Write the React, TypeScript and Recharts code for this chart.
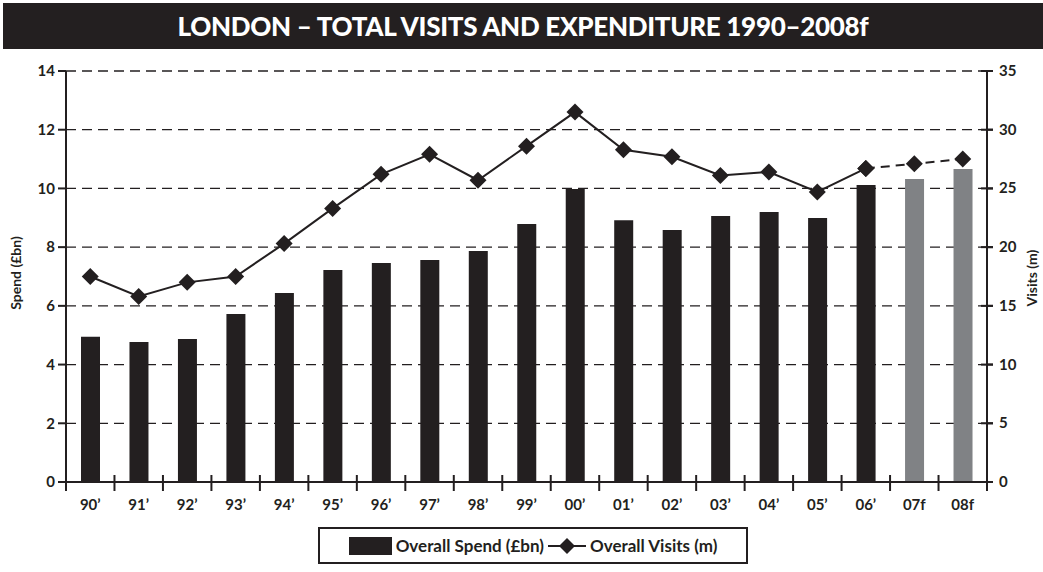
import React from 'react';
import { ComposedChart, Bar, Line, XAxis, YAxis, CartesianGrid, Cell } from 'recharts';

const years = ["90’", "91’", "92’", "93’", "94’", "95’", "96’", "97’", "98’", "99’", "00’", "01’", "02’", "03’", "04’", "05’", "06’", '07f', '08f'];
// spend in £bn
const spend = [4.95, 4.77, 4.87, 5.72, 6.44, 7.22, 7.46, 7.56, 7.87, 8.79, 9.98, 8.92, 8.58, 9.06, 9.2, 8.99, 10.12, 10.32, 10.66];
// visits in millions
const visits = [17.5, 15.8, 17.0, 17.5, 20.3, 23.3, 26.2, 27.9, 25.7, 28.6, 31.5, 28.3, 27.7, 26.1, 26.4, 24.7, 26.7, 27.1, 27.5];
const lastActual = 16; // 06 is the last real year, 07f/08f are forecasts
const spendTicks = [0, 2, 4, 6, 8, 10, 12, 14];
const visitTicks = [0, 5, 10, 15, 20, 25, 30, 35];

const INK = '#231f20';
const GREY = '#808285';
const FONT = 'Lato, "Open Sans", sans-serif';

const data = years.map((year, i) => ({
  year,
  spend: spend[i],
  visits: i <= lastActual ? visits[i] : null,
  visitsF: i >= lastActual ? visits[i] : null,
  forecast: i > lastActual,
}));

const Diamond = (props: any) => {
  const { cx, cy, value } = props;
  if (value == null || cx == null || cy == null) return null;
  const r = 8.5;
  return <polygon points={`${cx},${cy - r} ${cx + r},${cy} ${cx},${cy + r} ${cx - r},${cy}`} fill={INK} />;
};

const XTick = (props: any) => {
  const { x, y, payload, index } = props;
  const half = 921 / 19 / 2;
  return (
    <g>
      <line x1={x - half} x2={x - half} y1={y - 7} y2={y + 9} stroke={INK} strokeWidth={2} />
      {index === years.length - 1 && (
        <line x1={x + half} x2={x + half} y1={y - 7} y2={y + 9} stroke={INK} strokeWidth={2} />
      )}
      <text x={x} y={y + 28} textAnchor="middle" fill={INK} fontSize={15} fontWeight="bold" fontFamily={FONT}>
        {payload.value}
      </text>
    </g>
  );
};

// right axis ticks cross the axis line
const RightTick = (props: any) => {
  const { x, y, payload } = props;
  return (
    <g>
      <line x1={x - 18} x2={x - 6} y1={y} y2={y} stroke={INK} strokeWidth={2} />
      <text x={x} y={y} dy={5} textAnchor="start" fill={INK} fontSize={15} fontWeight="bold" fontFamily={FONT}>
        {payload.value}
      </text>
    </g>
  );
};

const tickStyle = { fill: INK, fontSize: 15, fontWeight: 'bold', fontFamily: FONT };

export default function App() {
  return (
    <div style={{ position: 'absolute', left: 0, top: 0, width: 1043, height: 572, overflow: 'hidden', background: '#fff', fontFamily: FONT }}>
      <ComposedChart width={1043} height={572} data={data} margin={{ top: 71, right: 0, bottom: 0, left: 0 }}>
        <CartesianGrid vertical={false} stroke={INK} strokeWidth={1.3} strokeDasharray="10 6" />
        <XAxis
          dataKey="year"
          interval={0}
          height={90}
          tickLine={false}
          tickSize={0}
          tickMargin={0}
          axisLine={{ stroke: INK, strokeWidth: 2 }}
          tick={<XTick />}
        />
        <YAxis
          yAxisId={0}
          width={66}
          domain={[0, 14]}
          ticks={spendTicks}
          tickSize={8}
          tickMargin={3}
          axisLine={{ stroke: INK, strokeWidth: 2 }}
          tickLine={{ stroke: INK, strokeWidth: 2 }}
          tick={tickStyle}
        />
        <YAxis
          yAxisId="right"
          orientation="right"
          width={56}
          domain={[0, 35]}
          ticks={visitTicks}
          tickSize={6}
          tickMargin={6}
          axisLine={{ stroke: INK, strokeWidth: 2 }}
          tickLine={{ stroke: INK, strokeWidth: 2 }}
          tick={<RightTick />}
        />
        <Bar dataKey="spend" yAxisId={0} barSize={19} isAnimationActive={false}>
          {data.map((d, i) => (
            <Cell key={i} fill={d.forecast ? GREY : INK} />
          ))}
        </Bar>
        <Line
          dataKey="visits"
          yAxisId="right"
          stroke={INK}
          strokeWidth={2}
          dot={<Diamond />}
          activeDot={false}
          type="linear"
          isAnimationActive={false}
        />
        <Line
          dataKey="visitsF"
          yAxisId="right"
          stroke={INK}
          strokeWidth={2}
          strokeDasharray="9 6"
          dot={<Diamond />}
          activeDot={false}
          type="linear"
          isAnimationActive={false}
        />
      </ComposedChart>

      <div style={{ position: 'absolute', left: 3, top: 3, width: 1040, height: 46, background: INK, color: '#fff', display: 'flex', alignItems: 'center', justifyContent: 'center', fontSize: 26, fontWeight: 900, letterSpacing: -0.3 }}>
        LONDON – TOTAL VISITS AND EXPENDITURE 1990–2008f
      </div>

      <div style={{ position: 'absolute', left: -44, top: 263, width: 120, height: 20, lineHeight: '20px', textAlign: 'center', transform: 'rotate(-90deg)', fontSize: 14, fontWeight: 'bold', color: INK }}>
        Spend (£bn)
      </div>
      <div style={{ position: 'absolute', left: 972, top: 268, width: 120, height: 20, lineHeight: '20px', textAlign: 'center', transform: 'rotate(-90deg)', fontSize: 14, fontWeight: 'bold', color: INK }}>
        Visits (m)
      </div>

      <div style={{ position: 'absolute', left: 318, top: 527, width: 430, height: 37, boxSizing: 'border-box', border: `2px solid ${INK}`, display: 'flex', alignItems: 'center', justifyContent: 'center', gap: 4, fontSize: 17, fontWeight: 'bold', color: INK }}>
        <span style={{ display: 'inline-block', width: 43, height: 18, background: INK }} />
        <span>Overall Spend (£bn)</span>
        <svg width={38} height={20}>
          <line x1={0} x2={38} y1={10} y2={10} stroke={INK} strokeWidth={2} />
          <polygon points="19,2 27,10 19,18 11,10" fill={INK} />
        </svg>
        <span>Overall Visits (m)</span>
      </div>
    </div>
  );
}
